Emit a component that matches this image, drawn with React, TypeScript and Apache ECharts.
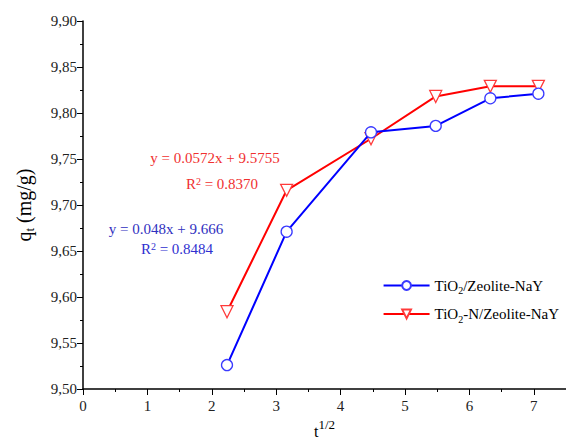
import React, { useEffect, useRef } from "react";
import * as echarts from "echarts";

// t^(1/2) values (sqrt of contact time)
const sqrtTime = [2.236, 3.162, 4.472, 5.477, 6.325, 7.071];
// adsorbed amount q_t (mg/g)
const qtTiO2Zeolite = [9.526, 9.671, 9.779, 9.786, 9.816, 9.821];
const qtTiO2NZeolite = [9.584, 9.716, 9.772, 9.818, 9.829, 9.829];

const seriesNames = ["TiO2/Zeolite-NaY", "TiO2-N/Zeolite-NaY"];
const fitRed = ["y = 0.0572x + 9.5755", "0.8370"];
const fitBlue = ["y = 0.048x + 9.666", "0.8484"];

const FONT = "Liberation Serif";

export default function App() {
  const ref = useRef<HTMLDivElement>(null);
  useEffect(() => {
    const chart = echarts.init(ref.current!, null, { renderer: "svg" });
    const toPairs = (ys: number[]) => sqrtTime.map((x, i) => [x, ys[i]]);
    const richBase = {
      n: { fontFamily: FONT, fontSize: 15, color: "#000", lineHeight: 20, verticalAlign: "middle" },
      sub: { fontFamily: FONT, fontSize: 10, color: "#000", lineHeight: 12, verticalAlign: "bottom" },
    };
    chart.setOption({
      animation: false,
      backgroundColor: "#fff",
      textStyle: { fontFamily: FONT },
      grid: { left: 83, right: 0, top: 21, bottom: 50, containLabel: false, outerBoundsMode: "none" },
      xAxis: {
        type: "value",
        min: 0,
        max: 7.5,
        interval: 1,
        name: "{n|t}{sup|1/2}",
        nameLocation: "middle",
        nameGap: 27,
        nameTextStyle: {
          fontFamily: FONT,
          rich: {
            n: { fontFamily: FONT, fontSize: 16, color: "#000", lineHeight: 22, verticalAlign: "bottom" },
            sup: { fontFamily: FONT, fontSize: 13, color: "#000", lineHeight: 12, verticalAlign: "top" },
          },
        },
        axisLine: { show: true, lineStyle: { color: "#000", width: 1.5 } },
        axisTick: { show: true, inside: false, length: 6, lineStyle: { color: "#000" } },
        minorTick: { show: true, splitNumber: 2, length: 3, lineStyle: { color: "#000" } },
        splitLine: { show: false },
        axisLabel: {
          fontFamily: FONT,
          fontSize: 15,
          color: "#222",
          margin: 9,
          showMaxLabel: false,
          formatter: (v: number) => (Number.isInteger(v) ? String(v) : ""),
        },
      },
      yAxis: {
        type: "value",
        min: 9.5,
        max: 9.9,
        interval: 0.05,
        name: "{n|q}{sub|t}{n| (mg/g)}",
        nameLocation: "middle",
        nameRotate: 90,
        nameGap: 47,
        nameTextStyle: {
          fontFamily: FONT,
          rich: {
            n: { fontFamily: FONT, fontSize: 20, color: "#000", lineHeight: 24, verticalAlign: "middle" },
            sub: { fontFamily: FONT, fontSize: 13, color: "#000", lineHeight: 18, verticalAlign: "bottom" },
          },
        },
        axisLine: { show: true, lineStyle: { color: "#000", width: 1.5 } },
        axisTick: { show: true, inside: false, length: 6, lineStyle: { color: "#000" } },
        minorTick: { show: true, splitNumber: 2, length: 3, lineStyle: { color: "#000" } },
        splitLine: { show: false },
        axisLabel: {
          fontFamily: FONT,
          fontSize: 15,
          color: "#222",
          margin: 6,
          formatter: (v: number) => v.toFixed(2).replace(".", ","),
        },
      },
      legend: {
        right: 2,
        top: 273,
        orient: "vertical",
        itemWidth: 46,
        itemHeight: 11,
        itemGap: 11,
        data: seriesNames,
        formatter: (name: string) =>
          name === seriesNames[0]
            ? "{n|TiO}{sub|2}{n|/Zeolite-NaY}"
            : "{n|TiO}{sub|2}{n|-N/Zeolite-NaY}",
        textStyle: { fontFamily: FONT, rich: richBase },
      },
      series: [
        {
          name: seriesNames[0],
          type: "line",
          data: toPairs(qtTiO2Zeolite),
          lineStyle: { color: "#0000ff", width: 2 },
          symbol: "circle",
          symbolSize: 11,
          itemStyle: { color: "#fff", borderColor: "#3a3aff", borderWidth: 1.3 },
          z: 3,
        },
        {
          name: seriesNames[1],
          type: "line",
          data: toPairs(qtTiO2NZeolite),
          lineStyle: { color: "#ff0000", width: 2 },
          symbol: "triangle",
          symbolRotate: 180,
          symbolSize: 12,
          itemStyle: { color: "#fff", borderColor: "#ff3a3a", borderWidth: 1.3 },
          z: 2,
        },
      ],
      graphic: [
        {
          type: "text",
          x: 215,
          y: 158,
          style: {
            text: fitRed[0],
            fill: "#f03030",
            font: `15px ${FONT}`,
            align: "center",
            verticalAlign: "middle",
          },
        },
        {
          type: "text",
          x: 222,
          y: 184,
          style: {
            text: `R{s|2} = ${fitRed[1]}`,
            fill: "#f03030",
            font: `15px ${FONT}`,
            align: "center",
            verticalAlign: "middle",
            rich: { s: { fontSize: 10, fontFamily: FONT, fill: "#f03030", verticalAlign: "top", lineHeight: 8 } },
          },
        },
        {
          type: "text",
          x: 166,
          y: 229,
          style: {
            text: fitBlue[0],
            fill: "#3030c0",
            font: `15px ${FONT}`,
            align: "center",
            verticalAlign: "middle",
          },
        },
        {
          type: "text",
          x: 177,
          y: 249,
          style: {
            text: `R{s|2} = ${fitBlue[1]}`,
            fill: "#3030d0",
            font: `15px ${FONT}`,
            align: "center",
            verticalAlign: "middle",
            rich: { s: { fontSize: 10, fontFamily: FONT, fill: "#3030d0", verticalAlign: "top", lineHeight: 8 } },
          },
        },
      ],
    });
    return () => chart.dispose();
  }, []);
  return (
    <div
      ref={ref}
      style={{ position: "fixed", left: 0, top: 0, width: 566, height: 439, background: "#fff" }}
    />
  );
}
